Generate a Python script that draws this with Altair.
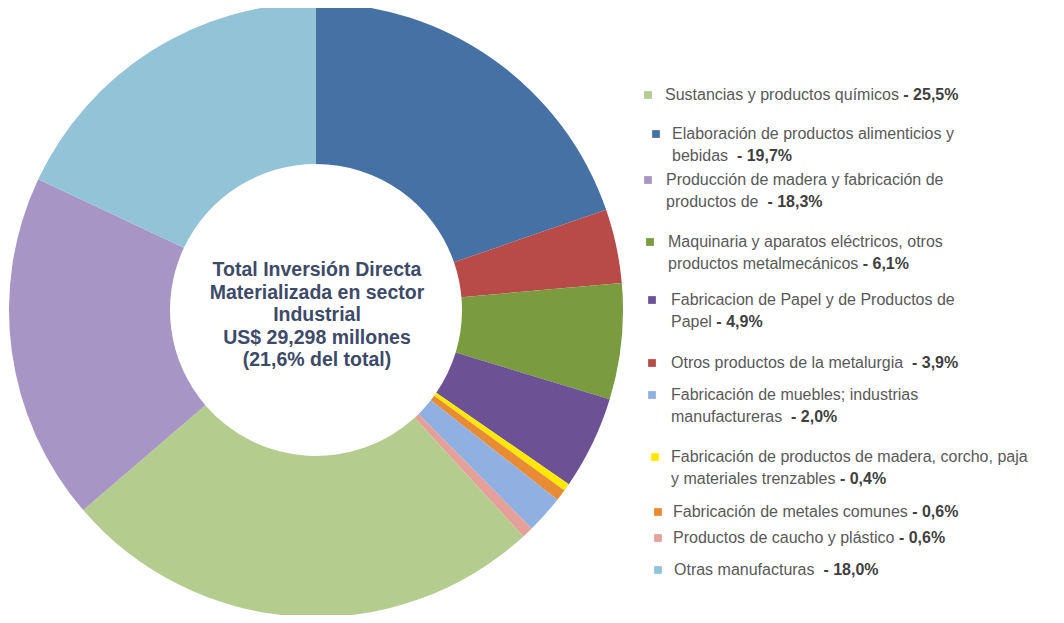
import altair as alt
import pandas as pd

# ---- data (clockwise from 12 o'clock) ----
slice_names = [
    "Elaboración de productos alimenticios y bebidas",
    "Otros productos de la metalurgia",
    "Maquinaria y aparatos eléctricos, otros productos metalmecánicos",
    "Fabricacion de Papel y de Productos de Papel",
    "Fabricación de productos de madera, corcho, paja y materiales trenzables",
    "Fabricación de metales comunes",
    "Fabricación de muebles; industrias manufactureras",
    "Productos de caucho y plástico",
    "Sustancias y productos químicos",
    "Producción de madera y fabricación de productos de",
    "Otras manufacturas",
]
slice_values = [19.7, 3.9, 6.1, 4.9, 0.4, 0.6, 2.0, 0.6, 25.5, 18.3, 18.0]
slice_colors = ["#4671a5", "#b84a48", "#7b9b3f", "#6c5195", "#ffe800", "#e98a35",
                "#8fb0e0", "#e6a09a", "#b4cc8e", "#a795c5", "#93c3d6"]

# ---- legend (in legend order) ----
legend_keys = [8, 0, 9, 2, 3, 1, 6, 4, 5, 7, 10]   # indices into slice lists
legend_lines = [
    ["Sustancias y productos químicos "],
    ["Elaboración de productos alimenticios y", "bebidas  "],
    ["Producción de madera y fabricación de", "productos de  "],
    ["Maquinaria y aparatos eléctricos, otros", "productos metalmecánicos "],
    ["Fabricacion de Papel y de Productos de", "Papel "],
    ["Otros productos de la metalurgia  "],
    ["Fabricación de muebles; industrias", "manufactureras  "],
    ["Fabricación de productos de madera, corcho, paja", "y materiales trenzables "],
    ["Fabricación de metales comunes "],
    ["Productos de caucho y plástico "],
    ["Otras manufacturas  "],
]
legend_pcts = ["25,5%", "19,7%", "18,3%", "6,1%", "4,9%", "3,9%", "2,0%", "0,4%", "0,6%", "0,6%", "18,0%"]

center_lines = ["Total Inversión Directa", "Materializada en sector", "Industrial",
                "US$ 29,298 millones", "(21,6%  del total)"]

# ---- layout (page pixels, minus 8px page margin) ----
M = 8
legend_first_y = [95, 134, 180, 242, 300, 363, 395, 457, 512, 538, 570]
legend_line_gap = 22
legend_sq_x = [648, 656, 648, 650, 652, 652, 652, 655, 658, 658, 658]
legend_txt_x = [665, 672, 666, 668, 671, 671, 671, 671, 673, 673, 674]
FS = 16

W = {' ': 278, '%': 889, ',': 278, '-': 333, '.': 278, ';': 278, '$': 556, '(': 333, ')': 333}
for d in "0123456789":
    W[d] = 556
upper = dict(A=667, B=667, C=722, D=722, E=667, F=611, G=778, H=722, I=278, J=500, K=667, L=556,
             M=833, N=722, O=778, P=667, Q=778, R=722, S=667, T=611, U=722, V=667, W=944, X=667,
             Y=667, Z=611)
lower = dict(a=556, b=556, c=500, d=556, e=556, f=278, g=556, h=556, i=222, j=222, k=500, l=222,
             m=833, n=556, o=556, p=556, q=556, r=333, s=500, t=278, u=556, v=500, w=722, x=500,
             y=500, z=500)
W.update(upper)
W.update(lower)
W.update({'á': 556, 'é': 556, 'í': 278, 'ó': 556, 'ú': 556, 'ñ': 556})


def text_width(s, size):
    return sum(W.get(ch, 556) for ch in s) * size / 1000.0


# ---- tables ----
arc_df = pd.DataFrame({"name": slice_names, "value": slice_values, "ord": list(range(len(slice_names)))})

sq_rows, txt_rows, bold_rows = [], [], []
for i, k in enumerate(legend_keys):
    sq_rows.append({"name": slice_names[k], "px": legend_sq_x[i] - M, "py": legend_first_y[i] - M})
    lines = legend_lines[i]
    for j, line in enumerate(lines):
        txt_rows.append({"t": line, "px": legend_txt_x[i] - M,
                         "py": legend_first_y[i] + j * legend_line_gap - M})
    last = lines[-1]
    bold_rows.append({"t": "- " + legend_pcts[i],
                      "px": legend_txt_x[i] + text_width(last, FS) - M,
                      "py": legend_first_y[i] + (len(lines) - 1) * legend_line_gap - M})

center_df = pd.DataFrame({"t": center_lines,
                          "py": [270 - M + 22.5 * j for j in range(len(center_lines))]})

color_scale = alt.Scale(domain=slice_names, range=slice_colors)

arc = alt.Chart(arc_df).mark_arc(innerRadius=146, outerRadius=307).encode(
    theta=alt.Theta("value:Q", stack=True),
    order=alt.Order("ord:Q"),
    color=alt.Color("name:N", scale=color_scale, legend=None),
    x=alt.value(316 - M),
    y=alt.value(310 - M),
)

center = alt.Chart(center_df).mark_text(
    font="Liberation Sans", fontWeight="bold", fontSize=19.5, color="#3d4a68",
    align="center", baseline="middle"
).encode(
    x=alt.value(317 - M),
    y=alt.Y("py:Q", scale=None),
    text="t:N",
)

squares = alt.Chart(pd.DataFrame(sq_rows)).mark_square(size=60, opacity=1).encode(
    x=alt.X("px:Q", scale=None),
    y=alt.Y("py:Q", scale=None),
    color=alt.Color("name:N", scale=color_scale, legend=None),
)

texts = alt.Chart(pd.DataFrame(txt_rows)).mark_text(
    font="Liberation Sans", fontSize=FS, color="#595959", align="left", baseline="middle"
).encode(
    x=alt.X("px:Q", scale=None),
    y=alt.Y("py:Q", scale=None),
    text="t:N",
)

bolds = alt.Chart(pd.DataFrame(bold_rows)).mark_text(
    font="Liberation Sans", fontSize=FS, fontWeight="bold", color="#3f3f3f",
    align="left", baseline="middle"
).encode(
    x=alt.X("px:Q", scale=None),
    y=alt.Y("py:Q", scale=None),
    text="t:N",
)

chart = alt.layer(arc, center, squares, texts, bolds).properties(
    width=1048, height=607, padding=0, autosize="none"
).configure_view(stroke=None)

chart.save("out.html", embed_options={"renderer": "svg", "actions": False})
